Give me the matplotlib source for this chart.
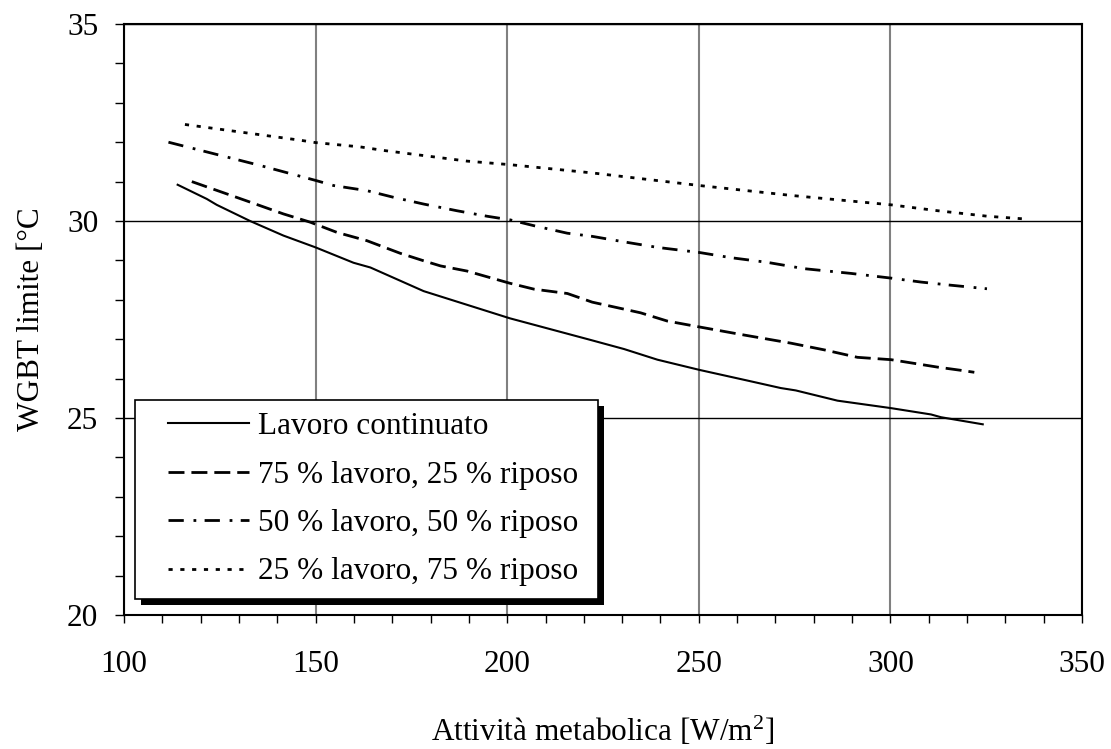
import numpy as np
import matplotlib
matplotlib.use("Agg")
import matplotlib.pyplot as plt
from matplotlib import patheffects
from matplotlib.lines import Line2D
from matplotlib.legend_handler import HandlerLine2D
from matplotlib.ticker import MultipleLocator

plt.rcParams['font.family'] = ['Liberation Serif', 'DejaVu Serif']
plt.rcParams['mathtext.fontset'] = 'custom'
plt.rcParams['mathtext.rm'] = 'Liberation Serif'
plt.rcParams['mathtext.it'] = 'Liberation Serif:italic'
plt.rcParams['lines.scale_dashes'] = False

# Dati
x_cont = [114, 121.6, 124.2, 132.9, 141.6, 150, 159.9, 164.3, 178.2, 200.7, 221.8,
          230.5, 239.2, 250.2, 262.7, 271.4, 275.3, 286.2, 300.2, 310.6, 313.2, 324.1]
y_cont = [30.92, 30.56, 30.41, 30.0, 29.63, 29.33, 28.94, 28.82, 28.22, 27.53, 26.98,
          26.75, 26.48, 26.22, 25.95, 25.76, 25.70, 25.44, 25.25, 25.09, 25.02, 24.84]

x_75 = [117.7, 132.9, 141.6, 148.6, 155.6, 163.4, 172.1, 178.2, 182.6, 189.5, 200.7,
        207, 215.7, 222.2, 234.8, 241.8, 250.2, 261, 274, 282.7, 291.4, 300.2,
        312.4, 318.4, 321.9]
y_75 = [31.0, 30.48, 30.18, 29.97, 29.71, 29.50, 29.18, 28.99, 28.86, 28.73, 28.42,
        28.27, 28.16, 27.94, 27.67, 27.46, 27.31, 27.12, 26.9, 26.73, 26.54, 26.48,
        26.29, 26.21, 26.16]

x_50 = [111.6, 135.5, 150, 154.7, 163.4, 170.4, 178.2, 186.9, 194.8, 200.7, 207,
        215.7, 222.2, 230.5, 239.2, 250.2, 258.3, 267.9, 277.5, 289.7, 300.2, 308,
        315.8, 325.2]
y_50 = [32.0, 31.41, 31.03, 30.90, 30.77, 30.60, 30.43, 30.26, 30.12, 30.03, 29.88,
        29.69, 29.61, 29.47, 29.33, 29.20, 29.07, 28.95, 28.79, 28.67, 28.55, 28.45,
        28.37, 28.28]

x_25 = [115.9, 146, 150, 161.7, 167.8, 189.5, 200.7, 222.2, 250.2, 274, 300.2,
        312.4, 325.4, 335.4]
y_25 = [32.45, 32.05, 31.99, 31.88, 31.79, 31.52, 31.43, 31.22, 30.9, 30.65, 30.41,
        30.26, 30.12, 30.05]

labels = ["Lavoro continuato",
          "75 % lavoro, 25 % riposo",
          "50 % lavoro, 50 % riposo",
          "25 % lavoro, 75 % riposo"]

fs = 22.5

fig = plt.figure(figsize=(11.11, 7.49), dpi=100)
ax = fig.add_axes([124 / 1111, 1 - 615 / 749, (1082 - 124) / 1111, (615 - 24) / 749])

ax.plot(x_cont, y_cont, color='black', lw=1.5, label=labels[0])
ax.plot(x_75, y_75, color='black', lw=2, dashes=(11.5, 5), label=labels[1])
ax.plot(x_50, y_50, color='black', lw=2, dashes=(11, 7, 2, 6), label=labels[2])
ax.plot(x_25, y_25, color='black', lw=2, dashes=(3, 5.5), label=labels[3])

ax.set_xlim(100, 350)
ax.set_ylim(20, 35)
ax.xaxis.set_major_locator(MultipleLocator(50))
ax.xaxis.set_minor_locator(MultipleLocator(10))
ax.yaxis.set_major_locator(MultipleLocator(5))
ax.yaxis.set_minor_locator(MultipleLocator(1))

ax.grid(axis='x', which='major', color='#808080', lw=1.5)
ax.grid(axis='y', which='major', color='black', lw=1.0)
ax.set_axisbelow(True)

for s in ax.spines.values():
    s.set_linewidth(1.5)
    s.set_color('black')

ax.tick_params(axis='x', which='both', direction='out', length=6, width=1, pad=19,
               labelsize=fs)
ax.tick_params(axis='y', which='both', direction='out', length=6.5, width=1, pad=12,
               labelsize=fs)

ax.set_xlabel(r"Attività metabolica [W/m$^{\mathrm{2}}$]", fontsize=fs, labelpad=26)
ax.set_ylabel("WGBT limite [°C", fontsize=fs, labelpad=15)

leg = ax.legend(loc='lower left', bbox_to_anchor=(11 / 958, 16 / 591, 463 / 958, 200 / 591),
                mode='expand', fontsize=fs, fancybox=False, framealpha=1,
                edgecolor='black', handlelength=3.25, handletextpad=0.3,
                labelspacing=0.62, borderaxespad=0, borderpad=0.4,
                handler_map={Line2D: HandlerLine2D(xpad=0.67)})
leg.get_frame().set_linewidth(1.2)
leg.get_frame().set_path_effects([
    patheffects.SimplePatchShadow(offset=(4.3, -4.3), shadow_rgbFace='black', alpha=1),
    patheffects.Normal()])

fig.savefig("out.png", dpi=100)
